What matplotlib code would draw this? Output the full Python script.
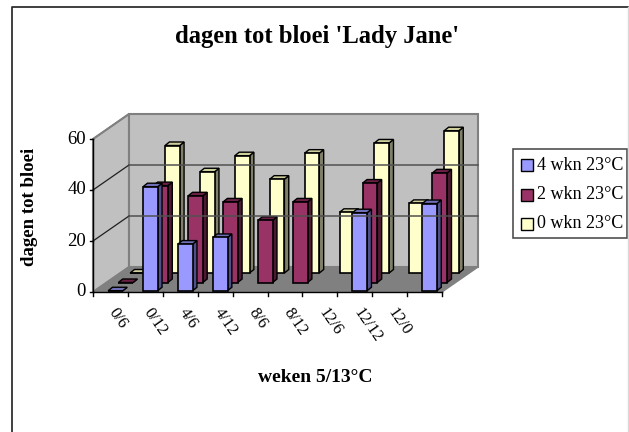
#!/usr/bin/env python3
"""dagen tot bloei 'Lady Jane' -- pseudo 3D column chart."""
import matplotlib
matplotlib.use("Agg")
import matplotlib.pyplot as plt
from matplotlib.patches import Polygon, Rectangle

plt.rcParams["font.family"] = ["Liberation Serif", "DejaVu Serif"]

categories = ["0/6", "0/12", "4/6", "4/12", "8/6", "8/12", "12/6", "12/12", "12/0", ""]
wkn_4 = [0, 40.8, 18.3, 20.9, None, None, None, 30.6, None, 34.2]
wkn_2 = [0, 38, 34, 31.6, 24.4, 31.6, None, 39, None, 43]
wkn_0 = [0, 50, 39.7, 46, 36.8, 47, 23.8, 51, 27.3, 55.8]
series = ["4 wkn 23°C", "2 wkn 23°C", "0 wkn 23°C"]
yticks = [0, 20, 40, 60]

FRONT = "#9999ff", "#993366", "#ffffcc"
TOP = "#6f6fb8", "#6b1f45", "#cfcf9e"
SIDE = "#4f4f8a", "#4d1a33", "#80806a"

X0, XSTEP, Y0, YUNIT = 93.0, 34.9, 292.0, 2.55
DX, DY = 36.0, -25.0  # full depth of the floor
BAR_DX = 31.0         # bars step a bit less sideways than the floor does
BAR_L, BAR_W = 0.39, 0.42
ROW_DEPTH = [0.05, 0.38, 0.76]
BAR_DEPTH = 0.14


def proj(cat, val, depth=0.0, dx=DX):
    """category position, value, depth (0 front .. 1 back) -> pixel coords"""
    return X0 + cat * XSTEP + depth * dx, Y0 - val * YUNIT + depth * DY


fig = plt.figure(figsize=(6.29, 4.32), dpi=100)
ax = fig.add_axes([0, 0, 1, 1])
ax.set_xlim(0, 629)
ax.set_ylim(432, 0)
ax.axis("off")

# chart frame, only left and top are dark, the bottom is cut off
ax.plot([12, 12, 628], [432, 6.5, 6.5], color="#303030", lw=1.3)
ax.plot([628, 628], [6.5, 432], color="#d8d8d8", lw=1)

n = len(categories)
top = yticks[-1]

# walls and floor
ax.add_patch(Polygon([proj(0, 0), proj(0, top), proj(0, top, 1), proj(0, 0, 1)],
                     fc="#c0c0c0", ec="#808080", lw=1.5))
ax.add_patch(Polygon([proj(0, 0, 1), proj(0, top, 1), proj(n, top, 1), proj(n, 0, 1)],
                     fc="#c0c0c0", ec="#808080", lw=1.5))
ax.add_patch(Polygon([proj(0, 0), proj(0, 0, 1), proj(n, 0, 1), proj(n, 0)],
                     fc="#808080", ec="#808080", lw=1))

# gridlines on the walls
for v in yticks[1:-1]:
    ax.plot(*zip(proj(0, v), proj(0, v, 1)), color="#202020", lw=0.9)
    ax.plot(*zip(proj(0, v, 1), proj(n, v, 1)), color="#505050", lw=1.1)
ax.plot(*zip(proj(0, top), proj(0, top, 1)), color="#808080", lw=1.1)

# axes
ax.plot(*zip(proj(0, 0), proj(0, top)), color="black", lw=1)
ax.plot(*zip(proj(0, 0), proj(n, 0)), color="black", lw=1)
for v in yticks:
    x, y = proj(0, v)
    ax.plot([x - 3, x], [y, y], color="black", lw=1)
    ax.text(x - 7, y, str(v), ha="right", va="center", fontsize=13.5)
for i in range(n + 1):
    x, y = proj(i, 0)
    ax.plot([x, x], [y, y + 4], color="black", lw=1)
for i, lab in enumerate(categories):
    x, y = proj(i, 0)
    ax.text(x + 19, y + 18, lab, rotation=-55, rotation_mode="anchor",
            ha="left", va="center", fontsize=12)

# bars, back row first
rows = [wkn_4, wkn_2, wkn_0]
for s in (2, 1, 0):
    d0 = ROW_DEPTH[s]
    d1 = d0 + BAR_DEPTH
    for i, v in enumerate(rows[s]):
        if v is None:
            continue
        l, r = i + BAR_L, i + BAR_L + BAR_W
        ax.add_patch(Polygon([proj(r, 0, d0, BAR_DX), proj(r, v, d0, BAR_DX),
                              proj(r, v, d1, BAR_DX), proj(r, 0, d1, BAR_DX)],
                             fc=SIDE[s], ec="black", lw=1))
        ax.add_patch(Polygon([proj(l, v, d0, BAR_DX), proj(r, v, d0, BAR_DX),
                              proj(r, v, d1, BAR_DX), proj(l, v, d1, BAR_DX)],
                             fc=TOP[s], ec="black", lw=1))
        ax.add_patch(Polygon([proj(l, 0, d0, BAR_DX), proj(r, 0, d0, BAR_DX),
                              proj(r, v, d0, BAR_DX), proj(l, v, d0, BAR_DX)],
                             fc=FRONT[s], ec="black", lw=1.2))

# texts
ax.text(317, 37, "dagen tot bloei 'Lady Jane'", ha="center", va="center",
        fontsize=17.7, fontweight="bold")
ax.text(29, 207, "dagen tot bloei", rotation=90, ha="center", va="center",
        fontsize=13.5, fontweight="bold")
ax.text(315, 377, "weken 5/13°C", ha="center", va="center", fontsize=14, fontweight="bold")

# legend
ax.add_patch(Rectangle((513, 148.5), 114, 89.5, fc="white", ec="#505050", lw=1.2))
for i, name in enumerate(series):
    yc = 165 + i * 29.5
    ax.add_patch(Rectangle((521, yc - 6), 12, 12, fc=FRONT[i], ec="black", lw=1))
    ax.text(537, yc, name, ha="left", va="center", fontsize=13)

fig.savefig("out.png", dpi=100)
